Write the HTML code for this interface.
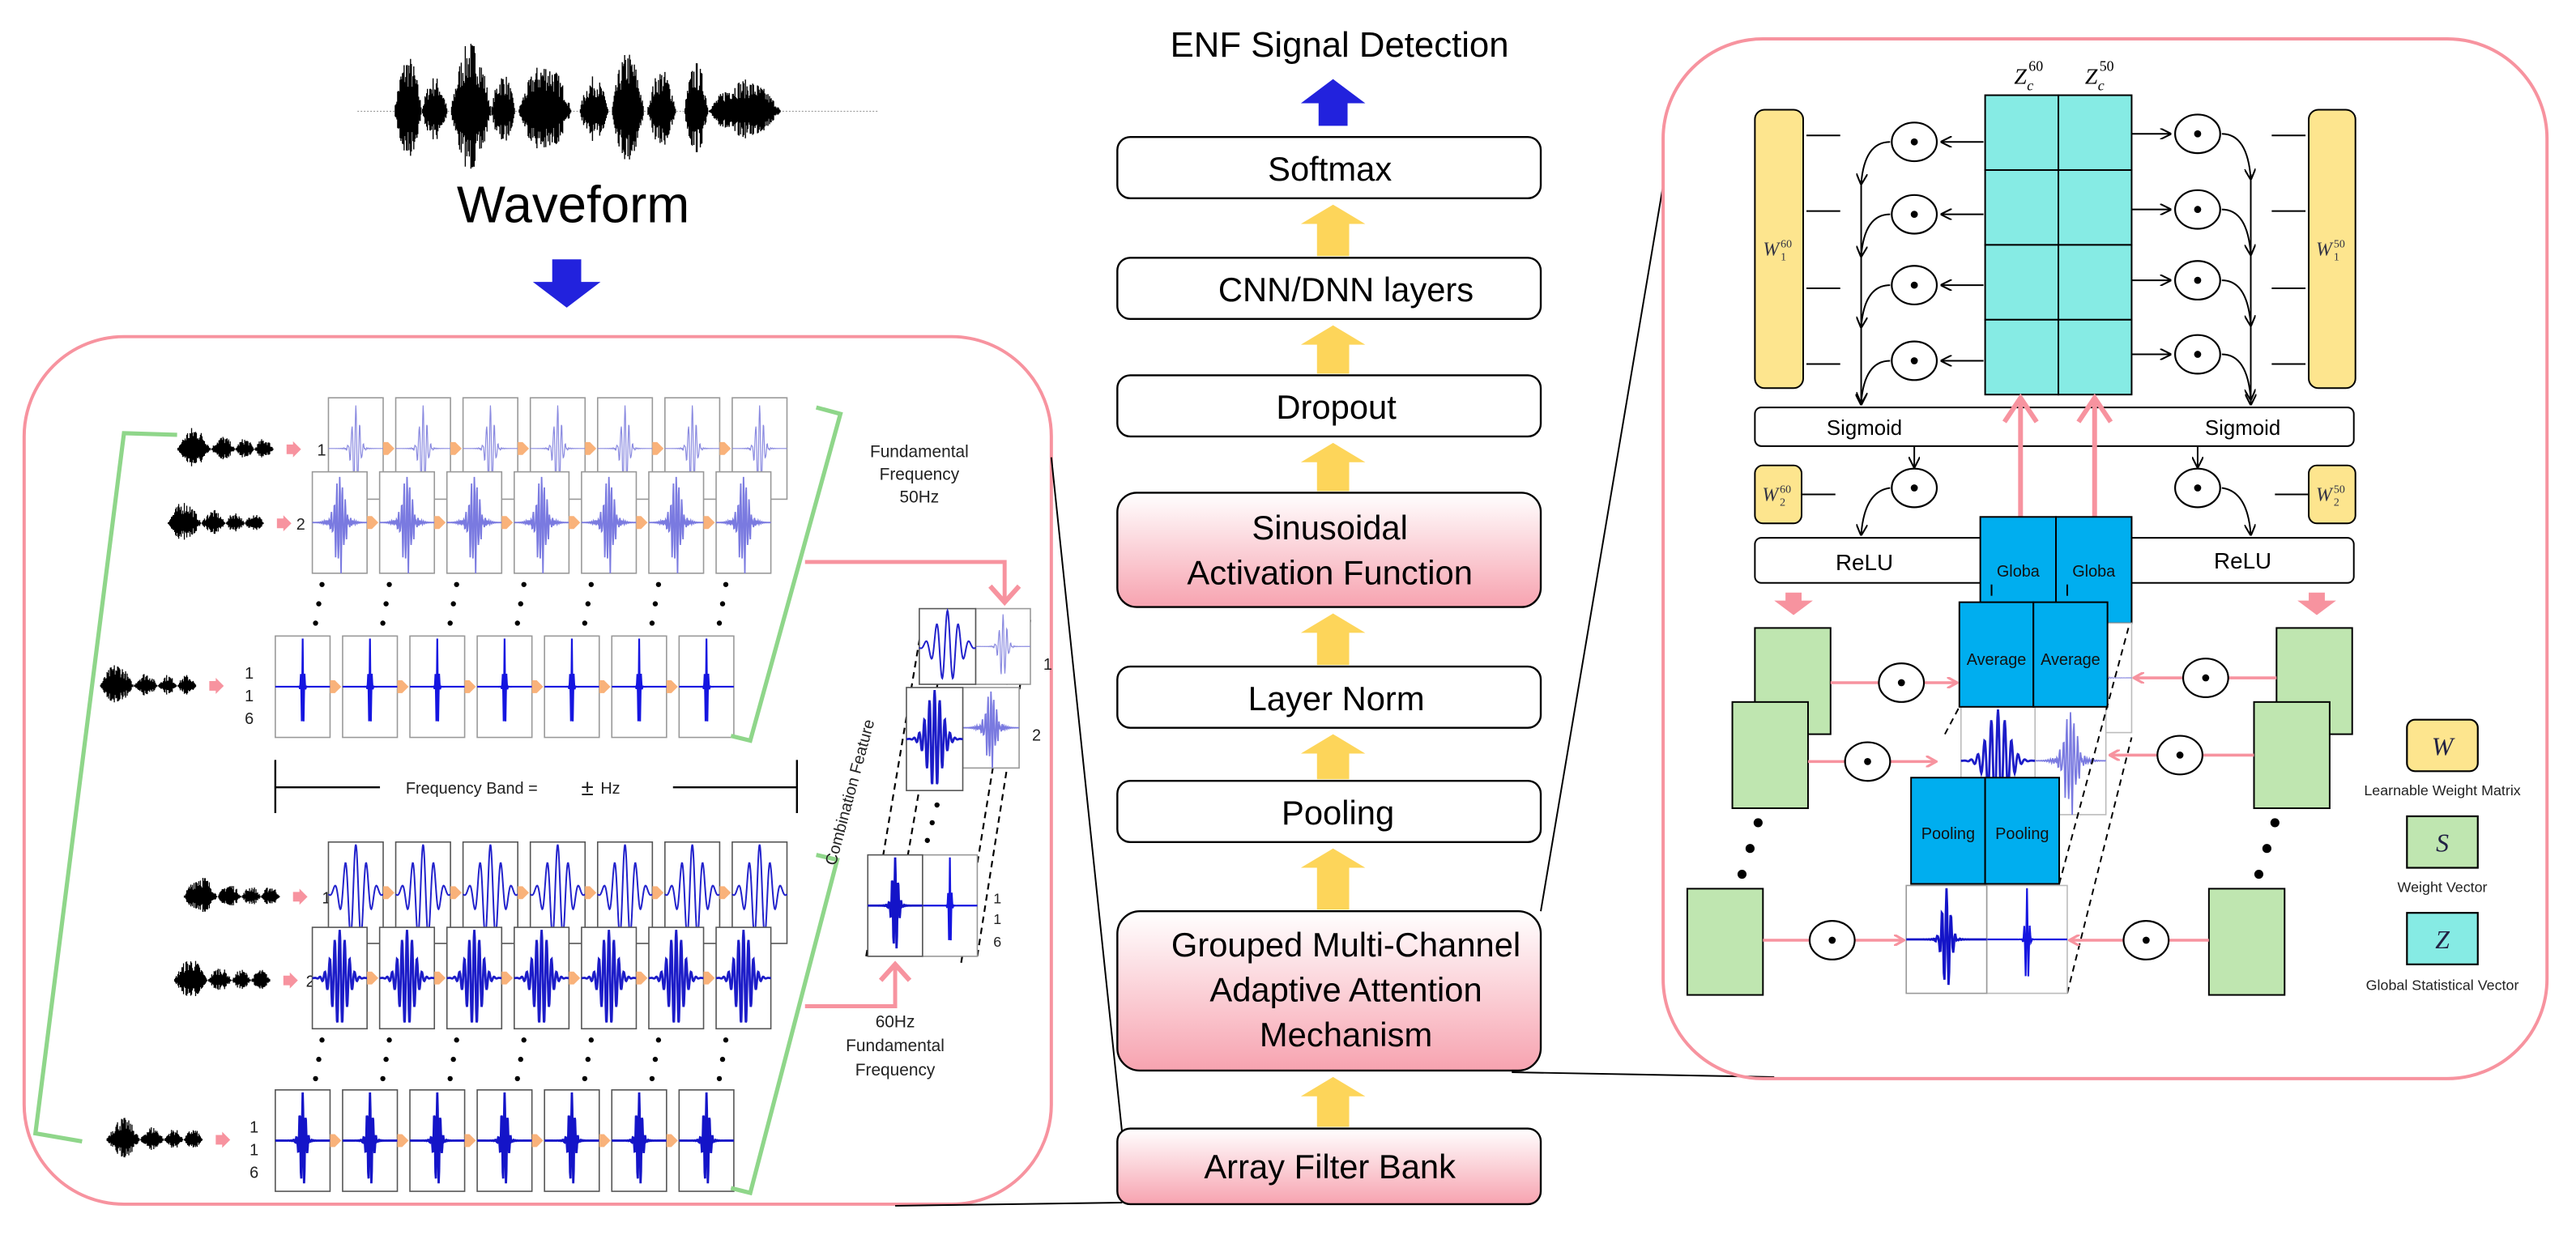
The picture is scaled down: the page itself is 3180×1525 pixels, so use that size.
<!DOCTYPE html>
<html><head><meta charset="utf-8"><style>
html,body{margin:0;padding:0;background:#fff;}
svg{display:block;font-family:"Liberation Sans",sans-serif;}
</style></head><body>
<svg id="s" xmlns="http://www.w3.org/2000/svg" viewBox="0 0 1600 767" width="3180" height="1525">
<defs>
<linearGradient id="pg" x1="0" y1="0" x2="0" y2="1"><stop offset="0" stop-color="#ffffff"/><stop offset="1" stop-color="#f7a3b0"/></linearGradient>
<marker id="ah" viewBox="0 0 10 10" refX="9" refY="5" markerWidth="7" markerHeight="7" orient="auto-start-reverse"><path d="M0,0 L10,5 L0,10" fill="none" stroke="#000" stroke-width="1.5"/></marker>
<marker id="pah" viewBox="0 0 10 10" refX="8" refY="5" markerWidth="4" markerHeight="4" orient="auto"><path d="M0,0 L9,5 L0,10" fill="none" stroke="#f7939f" stroke-width="2.2"/></marker>
</defs>
<rect width="1600" height="767" fill="#fff"/>

<g id="bigwave"></g>
<text x="356" y="138" font-size="32" text-anchor="middle">Waveform</text>
<path d="M343,161 h18 v14 h12 l-21,16 l-21,-16 h12z" fill="#2222dd"/>

<rect x="15" y="209" width="638" height="539" rx="62" fill="none" stroke="#f7939f" stroke-width="2"/>
<g id="left"></g>
<text x="571" y="284" font-size="10.5" text-anchor="middle" fill="#222">Fundamental</text>
<text x="571" y="298" font-size="10.5" text-anchor="middle" fill="#222">Frequency</text>
<text x="571" y="312" font-size="10.5" text-anchor="middle" fill="#222">50Hz</text>
<text x="556" y="638" font-size="10.5" text-anchor="middle" fill="#222">60Hz</text>
<text x="556" y="653" font-size="10.5" text-anchor="middle" fill="#222">Fundamental</text>
<text x="556" y="668" font-size="10.5" text-anchor="middle" fill="#222">Frequency</text>
<text x="0" y="0" font-size="10" fill="#222" transform="translate(519,538) rotate(-75)">Combination Feature</text>
<line x1="171" y1="489" x2="236" y2="489" stroke="#000" stroke-width="1.2"/>
<line x1="418" y1="489" x2="495" y2="489" stroke="#000" stroke-width="1.2"/>
<line x1="171" y1="472" x2="171" y2="505" stroke="#000" stroke-width="1.2"/>
<line x1="495" y1="472" x2="495" y2="505" stroke="#000" stroke-width="1.2"/>
<text x="252" y="493" font-size="10" fill="#222">Frequency Band =</text>
<text x="361" y="494" font-size="14" fill="#222">±</text>
<text x="373" y="493" font-size="10" fill="#222">Hz</text>

<line x1="653" y1="284" x2="697" y2="704" stroke="#000" stroke-width="1"/>
<line x1="556" y1="749" x2="697" y2="747" stroke="#000" stroke-width="1"/>
<line x1="957" y1="566" x2="1033" y2="115" stroke="#000" stroke-width="1"/>
<line x1="939" y1="666" x2="1102" y2="669" stroke="#000" stroke-width="1"/>

<text x="832" y="35" font-size="22" text-anchor="middle">ENF Signal  Detection</text>
<path d="M819,78 v-14 h-11 l20,-15 l20,15 h-11 v14z" fill="#2222dd"/>
<g id="center" stroke="#000" stroke-width="1.2">
<rect x="694" y="85" width="263" height="38" rx="8" fill="#fff"/>
<rect x="694" y="160" width="263" height="38" rx="8" fill="#fff"/>
<rect x="694" y="233" width="263" height="38" rx="8" fill="#fff"/>
<rect x="694" y="306" width="263" height="71" rx="12" fill="url(#pg)"/>
<rect x="694" y="414" width="263" height="38" rx="8" fill="#fff"/>
<rect x="694" y="485" width="263" height="38" rx="8" fill="#fff"/>
<rect x="694" y="566" width="263" height="99" rx="14" fill="url(#pg)"/>
<rect x="694" y="701" width="263" height="47" rx="8" fill="url(#pg)"/>
</g>
<g font-size="21" text-anchor="middle">
<text x="826" y="112">Softmax</text>
<text x="836" y="187">CNN/DNN layers</text>
<text x="830" y="260">Dropout</text>
<text x="826" y="335">Sinusoidal</text>
<text x="826" y="363">Activation Function</text>
<text x="830" y="441">Layer Norm</text>
<text x="831" y="512">Pooling</text>
<text x="836" y="594">Grouped Multi-Channel</text>
<text x="836" y="622">Adaptive Attention</text>
<text x="836" y="650">Mechanism</text>
<text x="826" y="732">Array Filter Bank</text>
</g>
<g id="yarrows" fill="#fdd55a"></g>

<rect x="1033" y="24" width="549" height="646" rx="62" fill="none" stroke="#f7939f" stroke-width="2"/>
<g id="right"></g>
</svg>
<script>
var NS="http://www.w3.org/2000/svg";
function el(parent,tag,attrs,txt){var e=document.createElementNS(NS,tag);for(var k in attrs)e.setAttribute(k,attrs[k]);if(txt!==undefined)e.textContent=txt;parent.appendChild(e);return e;}
var seed=7;function rnd(){seed=(seed*16807)%2147483647;return seed/2147483647;}

(function(){
 var g=document.getElementById('bigwave');
 el(g,'line',{x1:222,y1:69,x2:546,y2:69,stroke:'#999','stroke-width':0.6,'stroke-dasharray':'1,1'});
 var env=function(x){var segs=[[245,262,0.8],[262,278,0.5],[280,305,1],[305,320,0.55],[322,355,0.7],[360,378,0.5],[380,400,0.85],[402,420,0.6],[425,440,0.7],[440,485,0.45]];var a=0;for(var i=0;i<segs.length;i++){var s=segs[i];if(x>=s[0]&&x<=s[1]){var m=(s[0]+s[1])/2,w=(s[1]-s[0])/2;a=Math.max(a,s[2]*(1-Math.pow((x-m)/w,2)));}}return a;};
 var d='';for(var x=245;x<485;x+=0.5){var a=env(x)*44*(0.4+0.6*rnd());d+='M'+x+','+(69-a)+'V'+(69+a*0.85);}
 el(g,'path',{d:d,stroke:'#000','stroke-width':0.7});
})();

function small(g,x,y,w,scale){
 var d='';
 for(var t=0;t<w;t+=0.5){var p=t/w;var e=(p<0.35?Math.sin(p/0.35*Math.PI):p<0.6?0.6*Math.sin((p-0.35)/0.25*Math.PI):0.5*Math.abs(Math.sin((p-0.6)/0.4*Math.PI*2)));var a=e*10*scale*(0.4+0.6*rnd());d+='M'+(x+t)+','+(y-a)+'V'+(y+a*0.8);}
 el(g,'path',{d:d,stroke:'#000','stroke-width':0.65});
}
function wavepath(x,y,w,h,s,f,amp,jag){
 var d='';var n=120;
 for(var i=0;i<=n;i++){var t=i/n*2-1;var v=amp*Math.exp(-(t/s)*(t/s))*Math.cos(2*Math.PI*f*t);if(jag)v+=jag*Math.exp(-(t/(s*2))*(t/(s*2)))*Math.sin(97*t);
  d+=(i?'L':'M')+(x+i/n*w).toFixed(2)+','+(y+h/2-v*h/2).toFixed(2);}
 return d;
}
function panel(g,x,y,w,h,type,bord){
 el(g,'rect',{x:x,y:y,width:w,height:h,fill:'#fff',stroke:bord||'#999','stroke-width':0.8});
 var cfg={A:[0.18,7,0.85,0.05,'#8a8ae0',0.6],B:[0.22,10,0.9,0.15,'#7a7ae0',0.9],C:[0.06,14,0.95,0.02,'#1515e0',1.1],
  D:[0.55,2.6,0.95,0,'#2222cc',1.0],E:[0.38,5.5,0.95,0,'#1c1cc8',1.4],F:[0.14,9,0.95,0.05,'#1414c8',1.4]}[type];
 el(g,'path',{d:wavepath(x,y,w,h,cfg[0],cfg[1],cfg[2],cfg[3]),fill:'none',stroke:cfg[4],'stroke-width':cfg[5]});
}
function oarrow(g,x,y){el(g,'path',{d:'M'+x+','+(y-4)+'h3l4,4l-4,4h-3z',fill:'#f9b27a'});}
function parrow(g,x,y){el(g,'path',{d:'M'+x+','+(y-3)+'h4v-2l5,5l-5,5v-2h-4z',fill:'#f7939f'});}

(function(){
 var g=document.getElementById('left');
 var rows=[
  {x:204,y:247,t:'A',wx:110,wy:279,lab:['1'],lx:197},
  {x:194,y:293,t:'B',wx:104,wy:325,lab:['2'],lx:184},
  {x:171,y:395,t:'C',wx:62,wy:426,lab:['1','1','6'],lx:152},
  {x:204,y:523,t:'D',wx:114,wy:557,lab:['1'],lx:200},
  {x:194,y:576,t:'E',wx:108,wy:609,lab:['2'],lx:190},
  {x:171,y:677,t:'F',wx:66,wy:708,lab:['1','1','6'],lx:155}
 ];
 rows.forEach(function(r,ri){
  var step=41.8,w=34,h=63;
  small(g,r.wx,r.wy,60,1.4);
  parrow(g,r.wx+68,r.wy);
  r.lab.forEach(function(l,i){el(g,'text',{x:r.lx,y:r.wy+4+(r.lab.length>1?(i-0.6)*14:0),'font-size':10,fill:'#222'},l);});
  for(var i=0;i<7;i++){var bx=r.x+i*step;panel(g,bx,r.y,w,h,r.t,(r.t>'C')?'#555':'#999');if(i<6)oarrow(g,bx+w,r.y+h/2);}
  if(ri==1||ri==4){
   for(var i=0;i<7;i++){var bx=r.x+6+i*step;for(var k=0;k<3;k++)el(g,'circle',{cx:bx-k*2,cy:r.y+h+7+k*12,r:1.6,fill:'#000'});}
  }
 });
 var gs={fill:'none',stroke:'#8fd68a','stroke-width':2.6};
 el(g,'polyline',Object.assign({points:'110,270 77,269 22,704 51,709'},gs));
 el(g,'polyline',Object.assign({points:'507,253 522,257 466,460 454,457'},gs));
 el(g,'polyline',Object.assign({points:'507,531 520,534 466,741 454,738'},gs));
 el(g,'polyline',{points:'500,349 624,349 624,373',fill:'none',stroke:'#f7939f','stroke-width':2.5});
 el(g,'polyline',{points:'615,364 624,374 633,364',fill:'none',stroke:'#f7939f','stroke-width':3});
 el(g,'polyline',{points:'500,625 556,625 556,600',fill:'none',stroke:'#f7939f','stroke-width':2.5});
 el(g,'polyline',{points:'547,609 556,599 565,609',fill:'none',stroke:'#f7939f','stroke-width':3});
 var dash={stroke:'#000','stroke-width':1.1,'stroke-dasharray':'4,3',fill:'none'};
 el(g,'line',Object.assign({x1:538,y1:594,x2:572,y2:392},dash));
 el(g,'line',Object.assign({x1:553,y1:594,x2:588,y2:392},dash));
 el(g,'line',Object.assign({x1:607,y1:594,x2:640,y2:385},dash));
 el(g,'line',Object.assign({x1:597,y1:598,x2:630,y2:395},dash));
 panel(g,606,378,34,47,'A');panel(g,571,378,35,47,'D','#555');
 el(g,'text',{x:648,y:416,'font-size':10,fill:'#222'},'1');
 panel(g,598,427,35,50,'B');panel(g,563,427,35,64,'E','#555');
 el(g,'text',{x:641,y:460,'font-size':10,fill:'#222'},'2');
 for(var k=0;k<3;k++)el(g,'circle',{cx:582-k*3,cy:500+k*11,r:1.6,fill:'#000'});
 panel(g,573,531,34,63,'C');panel(g,539,531,34,63,'F','#555');
 el(g,'text',{x:617,y:561,'font-size':9,fill:'#222'},'1');
 el(g,'text',{x:617,y:574,'font-size':9,fill:'#222'},'1');
 el(g,'text',{x:617,y:588,'font-size':9,fill:'#222'},'6');
})();

(function(){
 var g=document.getElementById('yarrows');
 [[123,160],[198,233],[271,306],[377,414],[452,485],[523,566],[665,701]].forEach(function(a){
  var t=a[0]+4,b=a[1]-1;el(g,'path',{d:'M818,'+b+'V'+(t+12)+'h-10l20,-12l20,12h-10V'+b+'z'});
 });
})();

(function(){
 var g=document.getElementById('right');
 var rs=[59,105.5,152,198.5];
 for(var c=0;c<2;c++)for(var r=0;r<4;r++)el(g,'rect',{x:1233+c*45.5,y:rs[r],width:45.5,height:46.5,fill:'#86ebe4',stroke:'#000','stroke-width':1});
 var sf='Liberation Serif, serif';
 el(g,'text',{x:1251,y:52,'font-size':14,'font-style':'italic','font-family':sf},'Z');
 el(g,'text',{x:1260,y:44,'font-size':9,'font-family':sf},'60');
 el(g,'text',{x:1259,y:56,'font-size':9,'font-style':'italic','font-family':sf},'c');
 el(g,'text',{x:1295,y:52,'font-size':14,'font-style':'italic','font-family':sf},'Z');
 el(g,'text',{x:1304,y:44,'font-size':9,'font-family':sf},'50');
 el(g,'text',{x:1303,y:56,'font-size':9,'font-style':'italic','font-family':sf},'c');
 function wbox(x,y,w,h,sup,sub,r){el(g,'rect',{x:x,y:y,width:w,height:h,rx:r,fill:'#fde58e',stroke:'#000','stroke-width':1});
  var cx=x+w/2-6,cy=y+h/2+4;el(g,'text',{x:cx-4,y:cy,'font-size':12,'font-style':'italic','font-family':sf,fill:'#334'},'W');
  el(g,'text',{x:cx+7,y:cy-5,'font-size':7,'font-family':sf,fill:'#334'},sup);
  el(g,'text',{x:cx+7,y:cy+3,'font-size':7,'font-family':sf,fill:'#334'},sub);}
 wbox(1090,68,30,173,'60','1',6);wbox(1434,68,29,173,'50','1',6);
 wbox(1090,289,29,36,'60','2',5);wbox(1434,289,29,36,'50','2',5);
 var ln={stroke:'#000','stroke-width':1};
 var ly=[84,131,179,226],lo=[88,133,177,224],ro=[83,130,174,220];
 for(var i=0;i<4;i++){
  el(g,'line',Object.assign({x1:1122,y1:ly[i],x2:1143,y2:ly[i]},ln));
  el(g,'line',Object.assign({x1:1411,y1:ly[i],x2:1432,y2:ly[i]},ln));
  el(g,'line',Object.assign({x1:1232,y1:lo[i],x2:1206,y2:lo[i],'marker-end':'url(#ah)'},ln));
  el(g,'line',Object.assign({x1:1324,y1:ro[i],x2:1348,y2:ro[i],'marker-end':'url(#ah)'},ln));
  el(g,'path',Object.assign({d:'M1174,'+lo[i]+' Q1158,'+lo[i]+' 1156,'+(lo[i]+26),fill:'none','marker-end':'url(#ah)'},ln));
  el(g,'path',Object.assign({d:'M1380,'+ro[i]+' Q1396,'+ro[i]+' 1398,'+(ro[i]+28),fill:'none','marker-end':'url(#ah)'},ln));
 }
 el(g,'line',Object.assign({x1:1156,y1:112,x2:1156,y2:251,'marker-end':'url(#ah)'},ln));
 el(g,'line',Object.assign({x1:1398,y1:108,x2:1398,y2:251,'marker-end':'url(#ah)'},ln));
 el(g,'rect',{x:1090,y:253,width:372,height:24,rx:4,fill:'#fff',stroke:'#000','stroke-width':1});
 el(g,'text',{x:1158,y:270,'font-size':13,'text-anchor':'middle'},'Sigmoid');
 el(g,'text',{x:1393,y:270,'font-size':13,'text-anchor':'middle'},'Sigmoid');
 el(g,'line',Object.assign({x1:1189,y1:277,x2:1189,y2:290,'marker-end':'url(#ah)'},ln));
 el(g,'line',Object.assign({x1:1365,y1:277,x2:1365,y2:290,'marker-end':'url(#ah)'},ln));
 el(g,'line',Object.assign({x1:1119,y1:307,x2:1140,y2:307},ln));
 el(g,'line',Object.assign({x1:1413,y1:307,x2:1434,y2:307},ln));
 el(g,'path',Object.assign({d:'M1174,303 Q1158,305 1156,332',fill:'none','marker-end':'url(#ah)'},ln));
 el(g,'path',Object.assign({d:'M1380,303 Q1396,305 1398,332',fill:'none','marker-end':'url(#ah)'},ln));
 el(g,'rect',{x:1090,y:334,width:372,height:28,rx:4,fill:'#fff',stroke:'#000','stroke-width':1});
 el(g,'text',{x:1158,y:354,'font-size':14,'text-anchor':'middle'},'ReLU');
 el(g,'text',{x:1393,y:353,'font-size':14,'text-anchor':'middle'},'ReLU');
 function od(x,y){el(g,'ellipse',{cx:x,cy:y,rx:14,ry:12,fill:'#fff',stroke:'#000','stroke-width':1.1});el(g,'circle',{cx:x,cy:y,r:2.2,fill:'#000'});}
 lo.forEach(function(y){od(1189,y);});ro.forEach(function(y){od(1365,y);});od(1189,303);od(1365,303);
 [1255,1301].forEach(function(x){el(g,'line',{x1:x,y1:321,x2:x,y2:248,stroke:'#f7939f','stroke-width':3});el(g,'polyline',{points:(x-10)+',262 '+x+',247 '+(x+10)+',262',fill:'none',stroke:'#f7939f','stroke-width':3});});
 [1114,1439].forEach(function(x){el(g,'path',{d:'M'+(x-5)+',368h10v5h7l-12,9l-12,-9h7z',fill:'#f7939f'});});
 function bb(x,y,w,h,t,ty){el(g,'rect',{x:x,y:y,width:w,height:h,fill:'#00aeef',stroke:'#000','stroke-width':1});el(g,'text',{x:x+w/2,y:ty,'font-size':10,'text-anchor':'middle',fill:'#111'},t);}
 bb(1230,321,47,66,'Globa',358);bb(1277,321,47,66,'Globa',358);
 el(g,'line',Object.assign({x1:1237,y1:363,x2:1237,y2:370},ln));el(g,'line',Object.assign({x1:1284,y1:363,x2:1284,y2:370},ln));
 var dash={stroke:'#000','stroke-width':1,'stroke-dasharray':'4,3',fill:'none'};
 panel(g,1278,387,46,68,'A','#bbb');
 panel(g,1264,439,44,67,'B','#bbb');
 panel(g,1218,439,46,67,'E','#bbb');
 bb(1217,374,46,65,'Average',413);bb(1263,374,46,65,'Average',413);
 el(g,'line',Object.assign({x1:1208,y1:456,x2:1217,y2:439},dash));
 el(g,'line',Object.assign({x1:1279,y1:549,x2:1322,y2:390},dash));
 el(g,'line',Object.assign({x1:1284,y1:617,x2:1324,y2:458},dash));
 panel(g,1234,550,50,67,'C','#bbb');
 panel(g,1184,550,50,67,'F','#999');
 bb(1187,483,46,66,'Pooling',521);bb(1233,483,46,66,'Pooling',521);
 function gb(x,y){el(g,'rect',{x:x,y:y,width:47,height:66,fill:'#bfe6b0',stroke:'#000','stroke-width':1});}
 gb(1090,390);gb(1076,436);gb(1048,552);gb(1414,390);gb(1400,436);gb(1372,552);
 [[1092,511],[1087,527],[1082,543],[1413,511],[1408,527],[1403,543]].forEach(function(p){el(g,'circle',{cx:p[0],cy:p[1],r:2.8,fill:'#000'});});
 var pl={stroke:'#f7939f','stroke-width':1.8};
 el(g,'line',Object.assign({x1:1137,y1:424,x2:1167,y2:424},pl));el(g,'line',Object.assign({x1:1195,y1:424,x2:1215,y2:424,'marker-end':'url(#pah)'},pl));
 el(g,'line',Object.assign({x1:1123,y1:473,x2:1146,y2:473},pl));el(g,'line',Object.assign({x1:1174,y1:473,x2:1202,y2:473,'marker-end':'url(#pah)'},pl));
 el(g,'line',Object.assign({x1:1095,y1:584,x2:1124,y2:584},pl));el(g,'line',Object.assign({x1:1152,y1:584,x2:1182,y2:584,'marker-end':'url(#pah)'},pl));
 el(g,'line',Object.assign({x1:1414,y1:421,x2:1384,y2:421},pl));el(g,'line',Object.assign({x1:1356,y1:421,x2:1326,y2:421,'marker-end':'url(#pah)'},pl));
 el(g,'line',Object.assign({x1:1400,y1:469,x2:1368,y2:469},pl));el(g,'line',Object.assign({x1:1340,y1:469,x2:1311,y2:469,'marker-end':'url(#pah)'},pl));
 el(g,'line',Object.assign({x1:1372,y1:584,x2:1347,y2:584},pl));el(g,'line',Object.assign({x1:1319,y1:584,x2:1286,y2:584,'marker-end':'url(#pah)'},pl));
 od(1181,424);od(1160,473);od(1138,584);od(1370,421);od(1354,469);od(1333,584);
 function lg(y,fill,ch,txt,ty){el(g,'rect',{x:1495,y:y,width:44,height:32,rx:(fill=='#fde58e'?5:0),fill:fill,stroke:'#000','stroke-width':1.1});
  el(g,'text',{x:1517,y:y+22,'font-size':16,'font-style':'italic','text-anchor':'middle','font-family':sf,fill:'#224'},ch);
  el(g,'text',{x:1517,y:ty,'font-size':9,'text-anchor':'middle',fill:'#222'},txt);}
 lg(447,'#fde58e','W','Learnable Weight Matrix',494);
 lg(507,'#bfe6b0','S','Weight Vector',554);
 lg(567,'#86ebe4','Z','Global Statistical Vector',615);
})();
</script>
</body></html>
